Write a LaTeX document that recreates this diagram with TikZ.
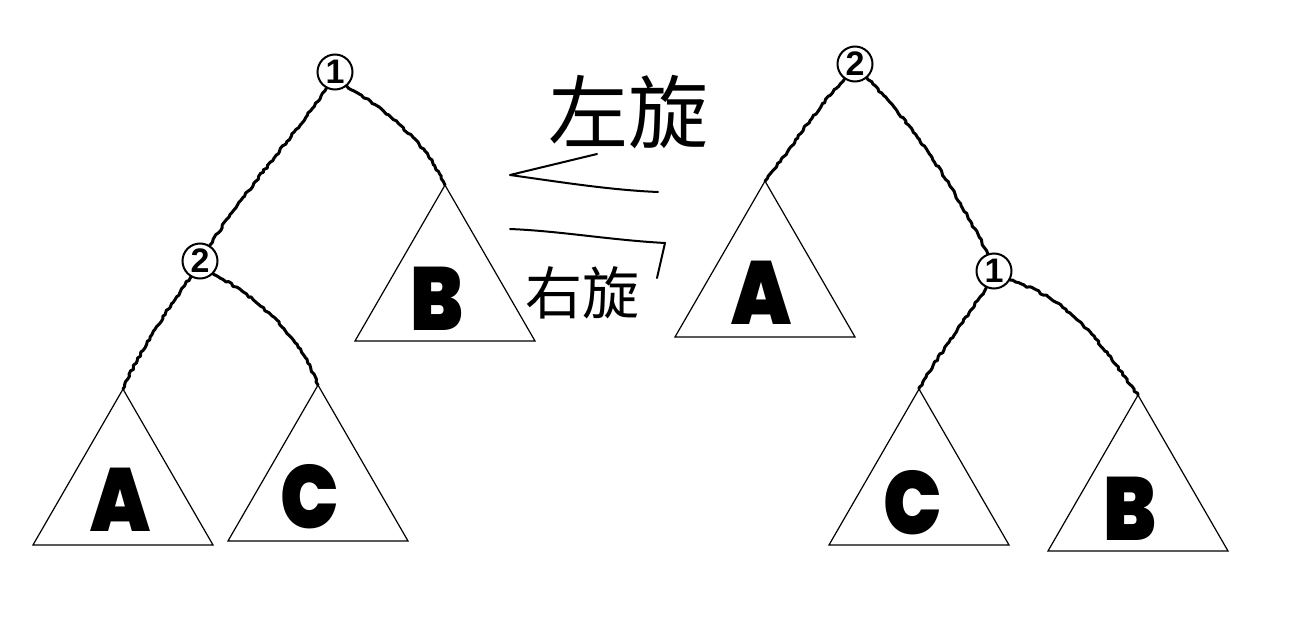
\documentclass[tikz,border=0pt]{standalone}
\usepackage{graphicx}
\usepackage{fontspec}
\newfontfamily\heavy{Poppins Black}
\newfontfamily\numfont{Liberation Sans}
\newfontfamily\cjk{Noto Sans CJK SC}
\usetikzlibrary{shapes.geometric,decorations.pathmorphing}
\newcommand{\tall}[1]{\scalebox{0.97}[1.12]{#1}}
\begin{document}
\begin{tikzpicture}[x=1pt,y=-1pt,
  circ/.style={circle,draw,line width=2pt,minimum size=35pt,inner sep=0pt,fill=white,
    font=\numfont\bfseries\fontsize{34}{34}\selectfont},
  tri/.style={regular polygon,regular polygon sides=3,draw,line width=1.2pt,
    minimum size=207.8pt,inner sep=0pt,outer sep=0pt},
  letter/.style={inner sep=0pt,font=\heavy\fontsize{80}{80}\selectfont},
  edge/.style={line width=3pt,line cap=round,line join=round,
    decorate,decoration={random steps,segment length=3pt,amplitude=1pt}},
  hand/.style={line width=2pt,line cap=round,line join=round},
  hw/.style={inner sep=0pt,font=\cjk}]
\pgfmathsetseed{7}
\useasboundingbox (0,0) rectangle (1304,642);
% left tree
\node[tri] (tLA) at (123,493) {};
\node[tri] (tLC) at (318,489) {};
\node[tri] (tLB) at (445,289) {};
\node[letter] (lLA) at (120,500) {\tall{A}};
\node[letter] (lLC) at (310,497) {\tall{C}};
\node[letter] (lLB) at (437,299) {\tall{B}};
\node[circ] (L1) at (335,72) {1};
\node[circ] (L2) at (200,261) {2};
\draw[edge] (L1.-118) .. controls (295,135) and (245,190) .. (L2.58);
\draw[edge] (L1.-50) .. controls (385,110) and (425,140) .. (tLB.corner 1);
\draw[edge] (L2.-120) .. controls (170,305) and (140,350) .. (tLA.corner 1);
\draw[edge] (L2.-45) .. controls (255,295) and (300,335) .. (tLC.corner 1);
% right tree
\node[tri] (tRA) at (765,285) {};
\node[tri] (tRC) at (919,493) {};
\node[tri] (tRB) at (1138,499) {};
\node[letter] (lRA) at (761,293) {\tall{A}};
\node[letter] (lRC) at (913,503) {\tall{C}};
\node[letter] (lRB) at (1130,509) {\tall{B}};
\node[circ] (R2) at (855,64) {2};
\node[circ] (R1) at (994,271) {1};
\draw[edge] (R2.-125) .. controls (815,110) and (790,150) .. (tRA.corner 1);
\draw[edge] (R2.-50) .. controls (920,130) and (960,200) .. (R1.110);
\draw[edge] (R1.-115) .. controls (965,320) and (935,360) .. (tRC.corner 1);
\draw[edge] (R1.-30) .. controls (1075,300) and (1105,350) .. (tRB.corner 1);
% rotation marks
\node[hw,font=\cjk\fontsize{80}{80}\selectfont] (tl) at (628,112) {左旋};
\node[hw,font=\cjk\fontsize{57}{57}\selectfont] (tr) at (582,293) {右旋};
\coordinate (a1) at (597,154);
\coordinate (a2) at (510,175);
\coordinate (a3) at (658,192);
\draw[hand] (a1) -- (a2) .. controls (560,182) and (610,190) .. (a3);
\coordinate (b1) at (510,229);
\coordinate (b2) at (665,243);
\coordinate (b3) at (657,278);
\draw[hand] (b1) .. controls (560,231) and (610,240) .. (b2) -- (b3);
\end{tikzpicture}
\end{document}
